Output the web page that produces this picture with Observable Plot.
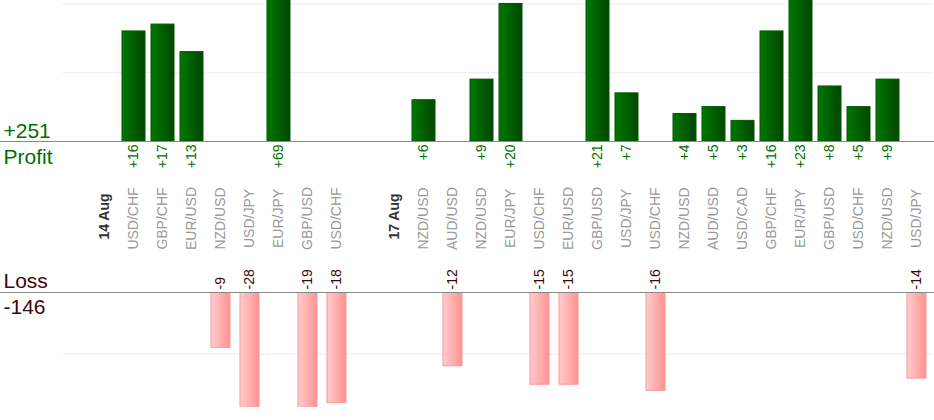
<!DOCTYPE html>
<html><head><meta charset="utf-8">
<script src="https://cdn.jsdelivr.net/npm/d3@7"></script>
<script src="https://cdn.jsdelivr.net/npm/@observablehq/plot@0.6"></script>
<style>
body{margin:0;background:#fff;}
#chart svg{display:block;}
</style></head><body><div id="chart"></div>
<script>
const labels = ["", "14 Aug", "USD/CHF", "GBP/CHF", "EUR/USD", "NZD/USD", "USD/JPY", "EUR/JPY", "GBP/USD", "USD/CHF",
  "", "17 Aug", "NZD/USD", "AUD/USD", "NZD/USD", "EUR/JPY", "USD/CHF", "EUR/USD", "GBP/USD", "USD/JPY",
  "USD/CHF", "NZD/USD", "AUD/USD", "USD/CAD", "GBP/CHF", "EUR/JPY", "GBP/USD", "USD/CHF", "NZD/USD", "USD/JPY"];
const dateLabels = ["14 Aug", "17 Aug"];
const profit = [null, null, 16, 17, 13, null, null, 69, null, null,
  null, null, 6, null, 9, 20, null, null, 21, 7,
  null, 4, 5, 3, 16, 23, 8, 5, 9, null];
const loss = [null, null, null, null, null, -9, -28, null, -19, -18,
  null, null, null, -12, null, null, -15, -15, null, null,
  -16, null, null, null, null, null, null, null, null, -14];

const rows = labels.map((label, i) => ({i, label, profit: profit[i], loss: loss[i]}));
const profitRows = rows.filter(d => d.profit != null);
const lossRows = rows.filter(d => d.loss != null);
const catRows = rows.filter(d => d.label && !dateLabels.includes(d.label));
const dateRows = rows.filter(d => dateLabels.includes(d.label));
const totalProfit = "+" + d3.sum(profit);
const totalLoss = String(d3.sum(loss));

const font = "'Liberation Sans', Arial, Helvetica, sans-serif";
const xOpts = {type: "band", domain: d3.range(labels.length), padding: 0, axis: null};
const green = "#006e00", maroon = "#3a0808";

const topPlot = Plot.plot({
  width: 934, height: 260, marginLeft: 60, marginRight: 3, marginTop: 0, marginBottom: 119,
  style: {fontFamily: font, background: "#fff", overflow: "visible"},
  x: xOpts,
  y: {domain: [0, 20.5], axis: null},
  marks: [
    Plot.ruleY([10, 20], {stroke: "#ebebeb", insetLeft: 3}),
    Plot.barY(profitRows, {x: "i", y: "profit", fill: "url(#gGreen)", stroke: "#005800", strokeWidth: 1, insetLeft: 3, insetRight: 3, clip: true}),
    Plot.ruleY([0], {stroke: "#888", insetLeft: -60, insetRight: -3}),
    Plot.text(profitRows, {x: "i", y: () => 0, text: d => "+" + d.profit, rotate: -90, textAnchor: "end", dy: 3, fill: green, fontSize: 14}),
    Plot.text(catRows, {x: "i", y: () => 0, text: "label", rotate: -90, textAnchor: "middle", dy: 77, fill: "#999", fontSize: 14}),
    Plot.text(dateRows, {x: "i", y: () => 0, text: "label", rotate: -90, textAnchor: "middle", dy: 75, fill: "#333", fontSize: 14, fontWeight: "bold"}),
    Plot.text([totalProfit], {frameAnchor: "left", y: () => 0, text: d => d, textAnchor: "start", dx: -57, dy: -10.7, fill: green, fontSize: 21}),
    Plot.text(["Profit"], {frameAnchor: "left", y: () => 0, text: d => d, textAnchor: "start", dx: -57, dy: 15.3, fill: green, fontSize: 21})
  ]
});

const bottomPlot = Plot.plot({
  width: 934, height: 160, marginLeft: 60, marginRight: 3, marginTop: 32, marginBottom: 13,
  style: {fontFamily: font, background: "#fff", overflow: "visible"},
  x: xOpts,
  y: {domain: [-18.7, 0], axis: null},
  marks: [
    Plot.ruleY([-10], {stroke: "#ebebeb", insetLeft: 3}),
    Plot.barY(lossRows, {x: "i", y: "loss", fill: "url(#gRed)", stroke: "#ff9696", strokeWidth: 1, insetLeft: 5, insetRight: 5, clip: true}),
    Plot.ruleY([0], {stroke: "#888", insetLeft: -60, insetRight: -3}),
    Plot.text(lossRows, {x: "i", y: () => 0, text: d => String(d.loss), rotate: -90, textAnchor: "start", dy: -3, fill: maroon, fontSize: 14}),
    Plot.text(["Loss"], {frameAnchor: "left", y: () => 0, text: d => d, textAnchor: "start", dx: -57, dy: -11.7, fill: maroon, fontSize: 21}),
    Plot.text([totalLoss], {frameAnchor: "left", y: () => 0, text: d => d, textAnchor: "start", dx: -57, dy: 14.3, fill: maroon, fontSize: 21})
  ]
});

function addDefs(svg) {
  d3.select(svg).insert("defs", ":first-child").html(
    '<linearGradient id="gGreen" x1="0" x2="1" y1="0" y2="0"><stop offset="0" stop-color="#007800"/><stop offset="1" stop-color="#004600"/></linearGradient>' +
    '<linearGradient id="gRed" x1="0" x2="1" y1="0" y2="0"><stop offset="0" stop-color="#ffcccc"/><stop offset="1" stop-color="#ff9292"/></linearGradient>'
  );
}
addDefs(topPlot);
addDefs(bottomPlot);
document.getElementById("chart").append(topPlot, bottomPlot);
</script></body></html>
